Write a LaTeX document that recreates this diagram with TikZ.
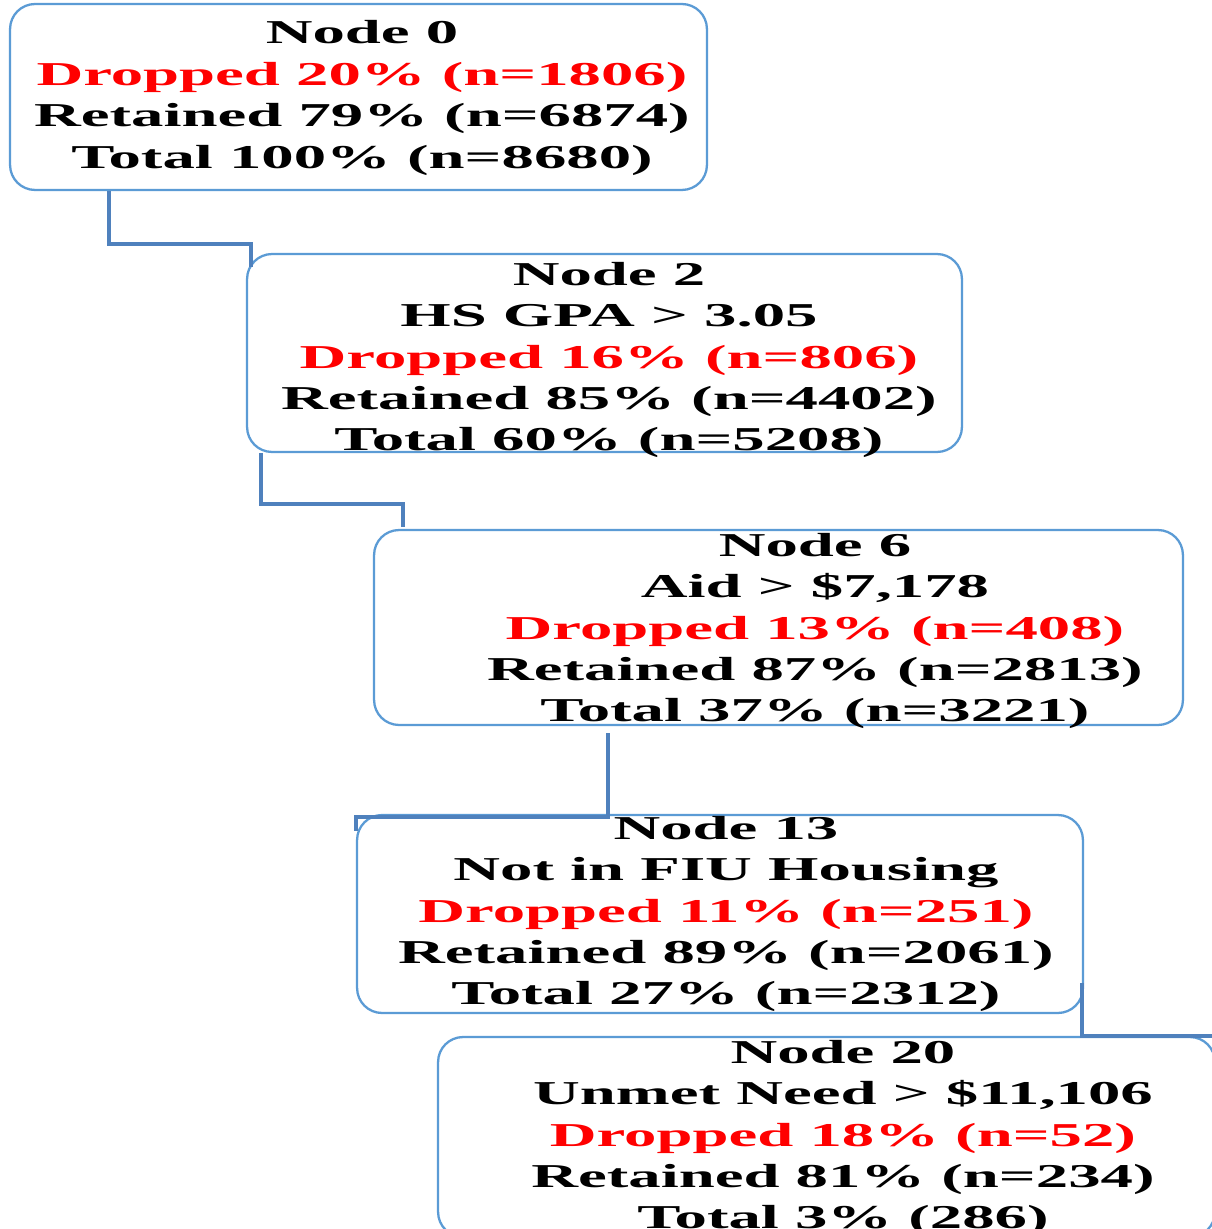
\documentclass[tikz,border=0pt]{standalone}
\usepackage{fontspec}
\usepackage{tikz}
\usetikzlibrary{positioning}
\newfontfamily\wideSerif[FakeStretch=1.94]{Liberation Serif}
\definecolor{boxColor}{RGB}{91,155,213}
\definecolor{lineColor}{RGB}{79,129,189}
\tikzstyle{treePlot} = [x = 0.02cm, y = -0.02cm]
\tikzstyle{boxStyle} = [draw=boxColor, line width=1.3pt, rounded corners = .5cm, fill=white, inner sep=0pt]
\tikzstyle{boxText} = [align=center, inner sep=0pt, font=\wideSerif\bfseries\fontsize{19}{23.6}\selectfont]
\tikzstyle{connectorStyle} = [draw=lineColor, line width=2.4pt]
\newcommand{\dropped}[1]{\textcolor{red}{#1}}

\begin{document}
\begin{tikzpicture}[treePlot]
        \useasboundingbox (0,0) rectangle (1212,1229);
        \clip (0,0) rectangle (1212,1229);

        % boxes
        \node [boxStyle, minimum width=13.94cm, minimum height=3.72cm] (n0) at (358.5,97) {};
        \node [boxStyle, minimum width=14.3cm, minimum height=3.96cm] (n2) at (604.5,353) {};
        \node [boxStyle, minimum width=16.18cm, minimum height=3.9cm] (n6) at (778.5,627.5) {};
        \node [boxStyle, minimum width=14.52cm, minimum height=3.96cm] (n13) at (720,914) {};
        \node [boxStyle, minimum width=15.54cm, minimum height=4cm] (n20) at (826.5,1137) {};

        % texts
        \node [boxText] (t0) at (362,98) {Node 0\\ \dropped{Dropped 20\% (n=1806)}\\ Retained 79\% (n=6874)\\ Total 100\% (n=8680)};
        \node [boxText] (t2) at (609,360) {Node 2\\ HS GPA > 3.05\\ \dropped{Dropped 16\% (n=806)}\\ Retained 85\% (n=4402)\\ Total 60\% (n=5208)};
        \node [boxText] (t6) at (815,631) {Node 6\\ Aid > \$7,178\\ \dropped{Dropped 13\% (n=408)}\\ Retained 87\% (n=2813)\\ Total 37\% (n=3221)};
        \node [boxText] (t13) at (726,914) {Node 13\\ Not in FIU Housing\\ \dropped{Dropped 11\% (n=251)}\\ Retained 89\% (n=2061)\\ Total 27\% (n=2312)};
        \node [boxText] (t20) at (843,1138) {Node 20\\ Unmet Need > \$11,106\\ \dropped{Dropped 18\% (n=52)}\\ Retained 81\% (n=234)\\ Total 3\% (286)};

        % connectors
        \draw [connectorStyle] ([xshift=2cm]n0.south west) -- ++(0,53) -| ([xshift=0.1cm,yshift=-0.28cm]n2.north west);
        \draw [connectorStyle] ([xshift=0.3cm]n2.south west) -- ++(0,51) -| ([xshift=0.6cm,yshift=0.04cm]n6.north west);
        \draw [connectorStyle] ([xshift=4.7cm,yshift=-0.14cm]n6.south west) -- ++(0,84) -| ([yshift=-0.34cm]n13.north west);
        \draw [connectorStyle] ([xshift=-0.04cm,yshift=0.62cm]n13.south east) |- (n20.north east);
      \end{tikzpicture}
\end{document}
